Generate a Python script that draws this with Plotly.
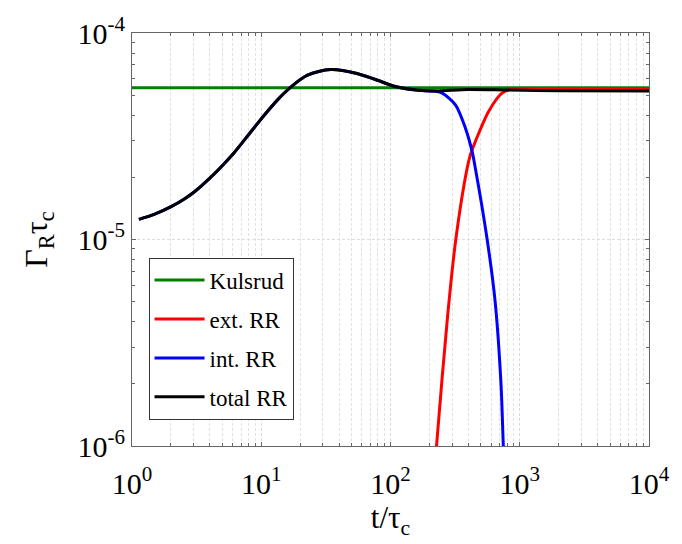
import plotly.graph_objects as go

# ---- data ----
kulsrud_t = [1.0, 1.0e4]
kulsrud_g = [5.43e-5, 5.43e-5]

total_t = [1.131, 1.498, 2.008, 2.54, 3.026, 4.058, 5.121, 6.12, 7.947, 10.05, 13.48,
           17.0, 22.8, 34.4, 55.0, 78.2, 111, 158, 224, 403, 814, 2000, 1.0e4]
total_g = [1.251e-5, 1.327e-5, 1.442e-5, 1.571e-5, 1.698e-5, 2.000e-5, 2.316e-5,
           2.617e-5, 3.206e-5, 3.855e-5, 4.771e-5, 5.484e-5, 6.248e-5, 6.65e-5,
           6.37e-5, 5.92e-5, 5.49e-5, 5.29e-5, 5.24e-5, 5.33e-5, 5.29e-5, 5.25e-5,
           5.24e-5]

int_t = [1.131, 1.498, 2.008, 2.54, 3.026, 4.058, 5.121, 6.12, 7.947, 10.05, 13.48,
         17.0, 22.8, 34.4, 55.0, 78.2, 111, 158, 224, 253, 319, 380, 428, 453,
         557, 644, 716, 746, 760]
int_g = [1.251e-5, 1.327e-5, 1.442e-5, 1.571e-5, 1.698e-5, 2.000e-5, 2.316e-5,
         2.617e-5, 3.206e-5, 3.855e-5, 4.771e-5, 5.484e-5, 6.248e-5, 6.65e-5,
         6.37e-5, 5.92e-5, 5.49e-5, 5.29e-5, 5.22e-5, 5.10e-5, 4.48e-5, 3.46e-5,
         2.67e-5, 2.22e-5, 1.02e-5, 5.06e-6, 2.0e-6, 1.01e-6, 8.0e-7]

ext_t = [222, 227, 276, 319, 392, 415, 453, 573, 725, 864, 1500, 3000, 1.0e4]
ext_g = [8.0e-7, 1.0e-6, 4.20e-6, 9.84e-6, 2.22e-5, 2.57e-5, 2.98e-5, 4.16e-5,
         5.10e-5, 5.35e-5, 5.37e-5, 5.37e-5, 5.37e-5]

x_major = [1, 10, 100, 1000, 10000]
x_major_text = ["10<sup>0</sup>", "10<sup>1</sup>", "10<sup>2</sup>", "10<sup>3</sup>", "10<sup>4</sup>"]
x_minor = [m * d for d in [1, 10, 100, 1000] for m in range(2, 10)]
y_major = [1e-6, 1e-5, 1e-4]
y_major_text = ["10<sup>-6</sup>", "10<sup>-5</sup>", "10<sup>-4</sup>"]
y_minor = [m * d for d in [1e-6, 1e-5] for m in range(2, 10)]

FONT = "Liberation Serif"

fig = go.Figure()
series = [
    ("Kulsrud", kulsrud_t, kulsrud_g, "#008000"),
    ("ext. RR", ext_t, ext_g, "#ff0000"),
    ("int. RR", int_t, int_g, "#0000ff"),
    ("total RR", total_t, total_g, "#000000"),
]
for name, t, g, c in series:
    fig.add_trace(go.Scatter(
        x=t, y=g, mode="lines", name=name, legendgroup=name,
        line=dict(color=c, width=3, shape="spline", smoothing=0.8),
    ))

axis_common = dict(
    type="log",
    showline=True, linecolor="#666666", linewidth=1, mirror="ticks",
    ticks="inside", ticklen=4, tickcolor="#666666",
    tickfont=dict(family=FONT, size=30, color="black"),
    zeroline=False,
)

fig.update_xaxes(
    **axis_common,
    range=[0, 4],
    tickmode="array", tickvals=x_major, ticktext=x_major_text,
    ticklabelstandoff=11,
    showgrid=True, gridcolor="#d9d9d9", griddash="3px,2px", gridwidth=1,
    minor=dict(tickmode="array", tickvals=x_minor, ticks="inside", ticklen=3,
               tickcolor="#666666", showgrid=True, gridcolor="#e2e2e2",
               griddash="3px,2px", gridwidth=1),
    title=dict(text="t/τ<sub>c</sub>", font=dict(family=FONT, size=31, color="black"),
               standoff=0),
)
fig.update_yaxes(
    **axis_common,
    range=[-6, -4],
    tickmode="array", tickvals=y_major, ticktext=y_major_text,
    showgrid=True, gridcolor="#dddddd", griddash="3px,2px", gridwidth=1,
    minor=dict(tickmode="array", tickvals=y_minor, ticks="inside", ticklen=3,
               tickcolor="#666666", showgrid=False),
    title=dict(text="Γ<sub>R</sub>τ<sub>c</sub>", font=dict(family=FONT, size=32, color="black"),
               standoff=20),
)

fig.update_layout(
    width=682, height=544,
    margin=dict(l=132, r=25, t=31, b=98),
    paper_bgcolor="white", plot_bgcolor="white",
    showlegend=True,
    legend=dict(
        x=0.032, y=0.456, xanchor="left", yanchor="top",
        bgcolor="white", bordercolor="#333333", borderwidth=1,
        font=dict(family=FONT, size=23, color="black"),
        tracegroupgap=6, itemwidth=50,
    ),
)

fig.write_html("out.html")
